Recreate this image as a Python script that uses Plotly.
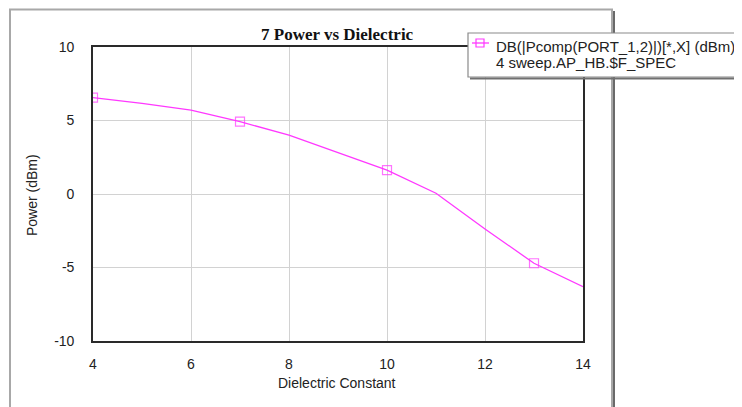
import plotly.graph_objects as go

dielectric = [4, 5, 6, 7, 8, 9, 10, 11, 12, 13, 14]
power_dbm = [6.55, 6.17, 5.7, 4.92, 4.0, 2.8, 1.63, 0.05, -2.38, -4.71, -6.3]
marker_sizes = [9, 0, 0, 9, 0, 0, 9, 0, 0, 9, 0]
x_ticks = [4, 6, 8, 10, 12, 14]
y_ticks = [-10, -5, 0, 5, 10]

legend_line1 = "DB(|Pcomp(PORT_1,2)|)[*,X] (dBm)"
legend_line2 = "4 sweep.AP_HB.$F_SPEC"
title_text = "7 Power vs Dielectric"
x_title = "Dielectric Constant"
y_title = "Power (dBm)"

MAGENTA = "#ff38ff"
SANS = "Arial, Liberation Sans, sans-serif"

# Figure geometry (the page body adds an 8px offset)
W, H = 734, 399
L, R, T, B = 85, 159, 39, 66
PW, PH = W - L - R, H - T - B


def px(rx):
    return (rx - 8 - L) / PW


def py(ry):
    return (H - B - (ry - 8)) / PH


fig = go.Figure()
fig.add_trace(go.Scatter(
    x=dielectric, y=power_dbm, mode="lines+markers", showlegend=False,
    line=dict(color=MAGENTA, width=1.3),
    marker=dict(symbol="square-open", size=marker_sizes, color=MAGENTA,
                line=dict(width=1.2, color=MAGENTA)),
))

axis_common = dict(
    showgrid=True, gridcolor="#d2d2d2", gridwidth=1.3,
    showline=True, linecolor="#2a2a2a", linewidth=1.6, mirror=True,
    zeroline=False, ticks="", tickfont=dict(family=SANS, size=14, color="#222"),
)

fig.update_xaxes(range=[4, 14], tickvals=x_ticks, ticktext=[str(v) for v in x_ticks],
                 ticklabelstandoff=9, **axis_common)
fig.update_yaxes(range=[-10, 10], tickvals=y_ticks, ticktext=[str(v) for v in y_ticks],
                 ticklabelstandoff=14, **axis_common)

shapes = [
    # outer frame
    dict(type="rect", xref="paper", yref="paper", x0=px(10), x1=px(612), y0=py(430), y1=py(9.5),
         line=dict(color="#a8a8a8", width=2), layer="below"),
    dict(type="line", xref="paper", yref="paper", x0=px(614), x1=px(614), y0=py(430), y1=py(11),
         line=dict(color="#6a6a6a", width=2), layer="below"),
    # legend box
    dict(type="rect", xref="paper", yref="paper", x0=px(468), x1=px(770), y0=py(77), y1=py(33),
         fillcolor="white", line=dict(color="#8a8a8a", width=1.2), layer="above"),
    dict(type="line", xref="paper", yref="paper", x0=px(470), x1=px(770), y0=py(78.5), y1=py(78.5),
         line=dict(color="#707070", width=2), layer="above"),
    # legend symbol
    dict(type="line", xref="paper", yref="paper", x0=px(472), x1=px(489), y0=py(43), y1=py(43),
         line=dict(color=MAGENTA, width=1.3), layer="above"),
    dict(type="rect", xref="paper", yref="paper", x0=px(476), x1=px(484), y0=py(47), y1=py(39),
         line=dict(color=MAGENTA, width=1.2), layer="above"),
]

annotations = [
    dict(text=legend_line1, xref="paper", yref="paper", x=px(494), y=py(46),
         xanchor="left", yanchor="middle", showarrow=False,
         font=dict(family=SANS, size=15, color="#222")),
    dict(text=legend_line2, xref="paper", yref="paper", x=px(494), y=py(63),
         xanchor="left", yanchor="middle", showarrow=False,
         font=dict(family=SANS, size=15, color="#222")),
    dict(text=x_title, xref="paper", yref="paper", x=px(337), y=py(383),
         xanchor="center", yanchor="middle", showarrow=False,
         font=dict(family=SANS, size=14, color="#222")),
    dict(text=y_title, xref="paper", yref="paper", x=px(32), y=py(195),
         xanchor="center", yanchor="middle", showarrow=False, textangle=-90,
         font=dict(family=SANS, size=14, color="#222")),
    dict(text="<b>" + title_text + "</b>", xref="paper", yref="paper", x=px(337), y=py(34),
         xanchor="center", yanchor="middle", showarrow=False,
         font=dict(family="Liberation Serif, Times New Roman, serif", size=17, color="#111")),
]

fig.update_layout(
    width=W, height=H,
    margin=dict(l=L, r=R, t=T, b=B),
    paper_bgcolor="white", plot_bgcolor="white",
    shapes=shapes, annotations=annotations, showlegend=False,
)

fig.write_html("out.html")
